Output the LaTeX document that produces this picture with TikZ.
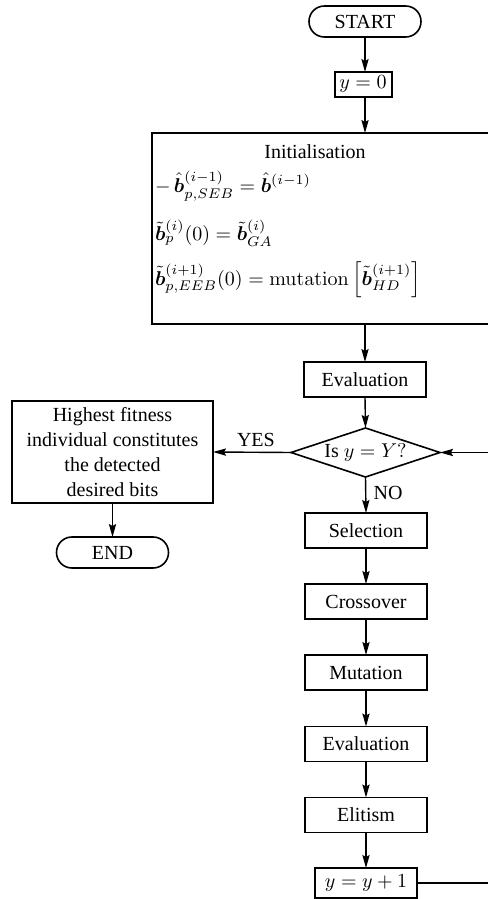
\documentclass[tikz,border=0pt]{standalone}
\usepackage{amsmath}
\usepackage{bm}
\usepackage[no-math]{fontspec}
\setmainfont{Liberation Serif}
\usetikzlibrary{arrows.meta,shapes.geometric}
\begin{document}
\begin{tikzpicture}[x=0.5pt,y=-0.5pt,
  font=\fontsize{10}{12.5}\selectfont,
  every node/.style={inner sep=0pt,outer sep=0pt},
  procbox/.style={draw,line width=0.7pt,minimum width=61pt,minimum height=17.5pt},
  thickbox/.style={draw,line width=1pt},
  term/.style={draw,line width=0.8pt,rounded corners=7.7pt,minimum width=56pt,minimum height=15.5pt},
  decide/.style={draw,line width=0.8pt,shape=diamond,aspect=3,minimum width=74.5pt,minimum height=24.5pt},
  flow/.style={line width=0.7pt,-{Stealth[length=6.5pt,width=3.6pt,inset=1pt]}},
  lbl/.style={font=\fontsize{10}{12}\selectfont},
  mathrow/.style={anchor=west,font=\fontsize{10.4}{12.5}\selectfont}
]
\useasboundingbox (0,0) rectangle (487,899);

\node[term] (start) at (365,21.5) {START};
\node[thickbox,minimum width=28.5pt,minimum height=12.5pt] (y0) at (363,84.5) {$y=0$};
\node[thickbox,minimum width=170pt,minimum height=95.5pt] (init) at (322,228.5) {};
\node (ititle) at (315,152) {Initialisation};
\node[mathrow] (row1) at (155,186) {$-\,\hat{\bm b}^{(i-1)}_{p,SEB}=\hat{\bm b}^{(i-1)}$};
\node[mathrow] (row2) at (155,233) {$\tilde{\bm b}^{(i)}_{p}(0)=\tilde{\bm b}^{(i)}_{GA}$};
\node[mathrow] (row3) at (155,280) {$\tilde{\bm b}^{(i+1)}_{p,EEB}(0)=\mathrm{mutation}\left[\tilde{\bm b}^{(i+1)}_{HD}\right]$};

\node[procbox] (eval1) at (365,379.5) {Evaluation};
\node[decide] (dec) at (365.5,452.5) {Is $y=Y?$};
\node[thickbox,minimum width=100.5pt,minimum height=51pt,align=center] (best) at (112.5,452)
  {Highest fitness\\individual constitutes\\the detected\\desired bits};
\node[term] (end) at (112.5,552.5) {END};

\node[procbox] (sel) at (366,530.5) {Selection};
\node[procbox] (cross) at (366,601.5) {Crossover};
\node[procbox] (mut) at (366,672.5) {Mutation};
\node[procbox] (eval2) at (366,744) {Evaluation};
\node[procbox] (elit) at (366,815) {Elitism};
\node[thickbox,minimum width=51pt,minimum height=15pt] (inc) at (366,883) {$y=y+1$};

\coordinate (loopbot) at (500,883);
\coordinate (looptop) at (500,452.5);

\draw[flow] (start.south) -- (start.south |- y0.north);
\draw[flow] (y0.south -| start.south) -- (start.south |- init.north);
\draw[flow] (start.south |- init.south) -- (eval1.north);
\draw[flow] (eval1.south) -- (dec.north);
\draw[flow] (dec.west) -- node[lbl,above=3pt,pos=0.45] (yes) {YES} (best.east);
\draw[flow] (best.south) -- (end.north);
\draw[flow] (dec.south) -- node[lbl,right=4pt,pos=0.45] (no) {NO} (sel.north);
\draw[flow] (sel.south) -- (cross.north);
\draw[flow] (cross.south) -- (mut.north);
\draw[flow] (mut.south) -- (eval2.north);
\draw[flow] (eval2.south) -- (elit.north);
\draw[flow] (elit.south) -- (inc.north);
\draw[line width=0.7pt] (inc.east) -- (loopbot) -- (looptop);
\draw[flow] (looptop) -- (dec.east);
\end{tikzpicture}
\end{document}
